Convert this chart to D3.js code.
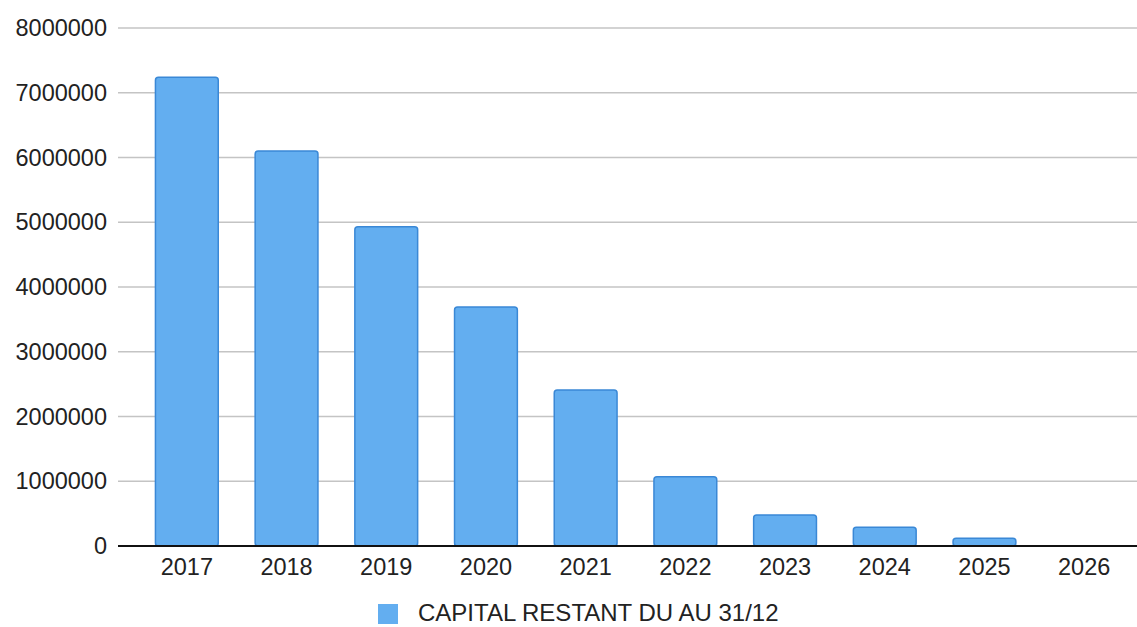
<!DOCTYPE html>
<html>
<head>
<meta charset="utf-8">
<script src="https://cdn.jsdelivr.net/npm/d3@7/dist/d3.min.js"></script>
<style>
  html, body { margin: 0; padding: 0; background: #fff; }
  svg { display: block; }
  text { font-family: "Liberation Sans", Arial, sans-serif; fill: #222; }
</style>
</head>
<body>
<svg id="chart" width="1137" height="627"></svg>
<script>
// Capital remaining at 31 December, per year
const years = ["2017", "2018", "2019", "2020", "2021", "2022", "2023", "2024", "2025", "2026"];
const capital = [7240000, 6100000, 4930000, 3690000, 2410000, 1070000, 480000, 290000, 120000, 0];
const yTicks = [0, 1000000, 2000000, 3000000, 4000000, 5000000, 6000000, 7000000, 8000000];
const seriesName = "CAPITAL RESTANT DU AU 31/12";

const svg = d3.select("#chart");
const margin = { left: 118, right: 0, top: 28, bottom: 81 };
const W = 1137, H = 627;
const fontSize = 23.5;

const x = d3.scaleBand()
  .domain(years)
  .range([137, 1134])
  .paddingInner(0.37)
  .paddingOuter(0.185);

const y = d3.scaleLinear()
  .domain([0, 8000000])
  .range([H - margin.bottom, margin.top]);

// horizontal gridlines
svg.append("g")
  .selectAll("line")
  .data(yTicks.filter(d => d > 0))
  .join("line")
  .attr("x1", margin.left)
  .attr("x2", W)
  .attr("y1", d => y(d))
  .attr("y2", d => y(d))
  .attr("stroke", "#c4c4c4")
  .attr("stroke-width", 1.3);

// y axis labels
const yAxis = d3.axisLeft(y).tickValues(yTicks).tickSize(0).tickPadding(11).tickFormat(d3.format("d"));
svg.append("g")
  .attr("transform", `translate(${margin.left},0)`)
  .call(yAxis)
  .call(g => g.select(".domain").remove())
  .selectAll("text")
  .attr("font-size", fontSize)
  .attr("font-family", "Liberation Sans, Arial, sans-serif")
  .attr("fill", "#222");

// bars
svg.append("g")
  .selectAll("rect")
  .data(years.map((yr, i) => ({ yr, v: capital[i] })).filter(d => d.v > 0))
  .join("rect")
  .attr("x", d => x(d.yr))
  .attr("width", x.bandwidth())
  .attr("y", d => y(d.v))
  .attr("height", d => y(0) - y(d.v))
  .attr("rx", 3)
  .attr("fill", "#63aef0")
  .attr("stroke", "#3a88d6")
  .attr("stroke-width", 1.5);

// baseline
svg.append("line")
  .attr("x1", margin.left)
  .attr("x2", W)
  .attr("y1", y(0))
  .attr("y2", y(0))
  .attr("stroke", "#111")
  .attr("stroke-width", 2);

// x axis labels
const xAxis = d3.axisBottom(x).tickSize(0).tickPadding(12);
svg.append("g")
  .attr("transform", `translate(0,${y(0)})`)
  .call(xAxis)
  .call(g => g.select(".domain").remove())
  .selectAll("text")
  .attr("font-size", fontSize)
  .attr("font-family", "Liberation Sans, Arial, sans-serif")
  .attr("fill", "#222");

// legend
const legend = svg.append("g").attr("transform", "translate(378,604)");
legend.append("rect")
  .attr("width", 20).attr("height", 20)
  .attr("fill", "#63aef0");
legend.append("text")
  .attr("x", 40).attr("y", 17)
  .attr("font-size", 24)
  .text(seriesName);
</script>
</body>
</html>
